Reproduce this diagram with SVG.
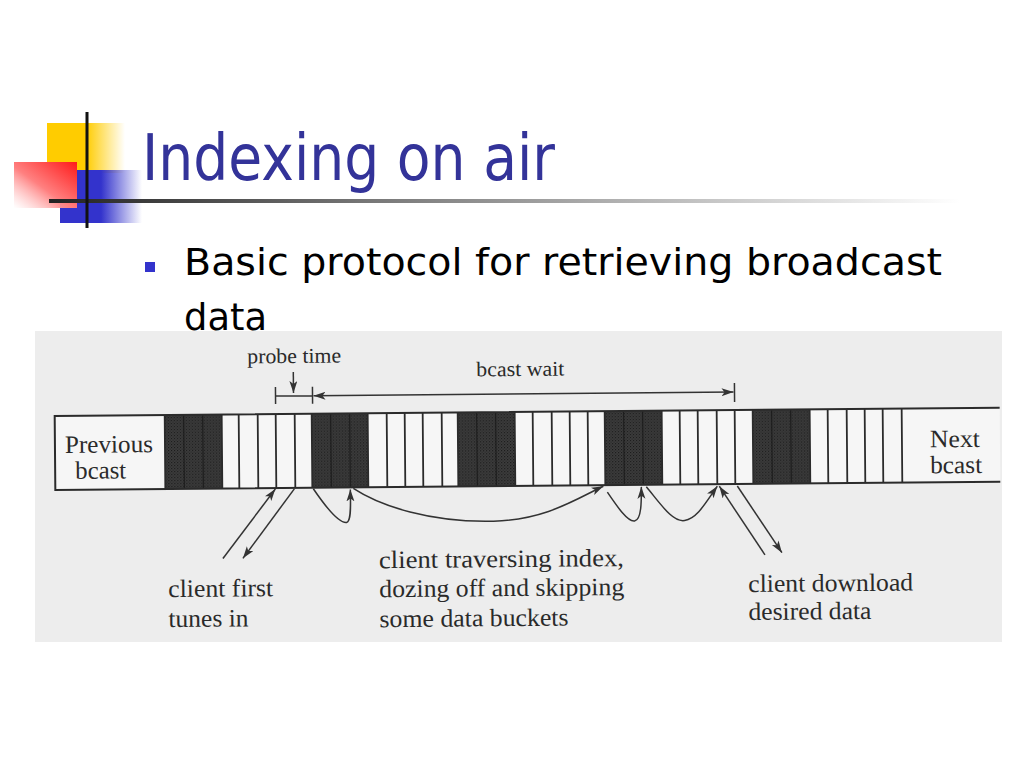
<svg xmlns="http://www.w3.org/2000/svg" width="1024" height="768" viewBox="0 0 1024 768">
<defs>
<style>
.title{font-family:"DejaVu Sans","Noto Sans",sans-serif;font-size:64px;fill:#333399}
.bullet{font-family:"DejaVu Sans","Noto Sans",sans-serif;font-size:38px;fill:#000}
.scan{font-family:"Liberation Serif","DejaVu Serif",serif;fill:#2a2a2a}
.s21{font-size:21px}
.s25{font-size:25px}
.ln{stroke:#2b2b2b;stroke-width:2;fill:none}
.cell{stroke:#2b2b2b;stroke-width:1.8}
.sub{stroke:#1a1a1a;stroke-width:1}
.con{stroke:#333;stroke-width:1.5;fill:none}
.arr{marker-end:url(#ah)}
.dark{fill:url(#stip)}
</style>
<linearGradient id="gYel" x1="0" y1="0" x2="1" y2="0">
<stop offset="0" stop-color="#ffcc00"/><stop offset="0.5" stop-color="#ffcc00"/><stop offset="1" stop-color="#ffcc00" stop-opacity="0"/>
</linearGradient>
<linearGradient id="gBlue" x1="0" y1="0" x2="1" y2="0">
<stop offset="0" stop-color="#3333cc"/><stop offset="0.5" stop-color="#3333cc"/><stop offset="1" stop-color="#3333cc" stop-opacity="0"/>
</linearGradient>
<linearGradient id="gRed" x1="1" y1="0" x2="0" y2="1">
<stop offset="0" stop-color="#ff1a1a"/><stop offset="0.55" stop-color="#ff8080"/><stop offset="1" stop-color="#ffffff" stop-opacity="0.6"/>
</linearGradient>
<linearGradient id="gLine" x1="0" y1="0" x2="1" y2="0">
<stop offset="0" stop-color="#222"/><stop offset="0.35" stop-color="#777"/><stop offset="1" stop-color="#fff"/>
</linearGradient>
<pattern id="stip" width="3" height="3" patternUnits="userSpaceOnUse">
<rect width="3" height="3" fill="#3e3e3e"/>
<rect x="0" y="0" width="1.2" height="1.2" fill="#1a1a1a"/>
<rect x="1.5" y="1.5" width="1.2" height="1.2" fill="#222"/>
</pattern>
<marker id="ah" markerUnits="userSpaceOnUse" markerWidth="14" markerHeight="10" refX="12" refY="4" orient="auto-start-reverse">
<path d="M0,0 L12,4 L0,8 L3,4 z" fill="#333"/>
</marker>
</defs>
<rect width="1024" height="768" fill="#fff"/>

<g id="logo">
<rect x="47" y="123" width="78" height="50" fill="url(#gYel)"/>
<rect x="60" y="170" width="82" height="53" fill="url(#gBlue)"/>
<rect x="14" y="162" width="63" height="46" fill="url(#gRed)"/>
<rect x="49" y="199" width="911" height="4" fill="url(#gLine)"/>
<rect x="85.5" y="112" width="3" height="116" fill="#111"/>
</g>

<g id="title"><text class="title" x="142" y="180" textLength="413" lengthAdjust="spacingAndGlyphs">Indexing on air</text></g>

<g id="bullet">
<rect x="145" y="262" width="10" height="10" fill="#3333cc"/>
<text class="bullet" x="184" y="275" textLength="758" lengthAdjust="spacingAndGlyphs">Basic protocol for retrieving broadcast</text>
<text class="bullet" x="184" y="330" textLength="83" lengthAdjust="spacingAndGlyphs">data</text>
</g>

<rect id="scan-bg" x="35" y="331" width="967" height="311" fill="#ededed"/>

<g transform="rotate(-0.5 512 450)">
<g id="bar">
<rect x="55" y="412" width="945" height="74" fill="#f6f6f6"/>
<g id="index-buckets">
<rect class="dark" x="165" y="412" width="57" height="74"/>
<rect class="dark" x="312" y="412" width="56" height="74"/>
<rect class="dark" x="458" y="412" width="57" height="74"/>
<rect class="dark" x="605" y="412" width="57" height="74"/>
<rect class="dark" x="753" y="412" width="57" height="74"/>
<path class="sub" d="M184,412V486M203,412V486M331,412V486M350,412V486M477,412V486M496,412V486M624,412V486M643,412V486M772,412V486M791,412V486"/>
</g>
<g id="data-buckets">
<path class="cell" d="M165,412V486M222,412V486M239,412V486M258,412V486M276,412V486M295,412V486M312,412V486M368,412V486M387,412V486M405,412V486M423,412V486M442,412V486M458,412V486M515,412V486M533,412V486M552,412V486M570,412V486M588,412V486M605,412V486M662,412V486M680,412V486M698,412V486M717,412V486M735,412V486M753,412V486M810,412V486M828,412V486M847,412V486M865,412V486M883,412V486M902,412V486"/>
</g>
<path class="ln" d="M1000,412H55V486H1000"/>
</g>

<g id="previous-bcast">
<text class="scan s25" x="65" y="449" textLength="88" lengthAdjust="spacingAndGlyphs">Previous</text>
<text class="scan s25" x="75" y="475" textLength="51" lengthAdjust="spacingAndGlyphs">bcast</text>
</g>
<g id="next-bcast">
<text class="scan s25" x="930" y="451" textLength="50" lengthAdjust="spacingAndGlyphs">Next</text>
<text class="scan s25" x="930" y="477" textLength="52" lengthAdjust="spacingAndGlyphs">bcast</text>
</g>

<g id="probe-time">
<text class="scan s21" x="248" y="361" textLength="94" lengthAdjust="spacingAndGlyphs">probe time</text>
</g>
<g id="bcast-wait">
<text class="scan s21" x="477" y="376" textLength="88" lengthAdjust="spacingAndGlyphs">bcast wait</text>
</g>
<g id="label-first">
<text class="scan s25" x="167" y="594" textLength="105" lengthAdjust="spacingAndGlyphs">client first</text>
<text class="scan s25" x="167" y="624" textLength="80" lengthAdjust="spacingAndGlyphs">tunes in</text>
</g>
<g id="label-traverse">
<text class="scan s25" x="378" y="567" textLength="245" lengthAdjust="spacingAndGlyphs">client traversing index,</text>
<text class="scan s25" x="378" y="596" textLength="245" lengthAdjust="spacingAndGlyphs">dozing off and skipping</text>
<text class="scan s25" x="378" y="626" textLength="189" lengthAdjust="spacingAndGlyphs">some data buckets</text>
</g>
<g id="label-download">
<text class="scan s25" x="747" y="594" textLength="165" lengthAdjust="spacingAndGlyphs">client download</text>
<text class="scan s25" x="747" y="622" textLength="123" lengthAdjust="spacingAndGlyphs">desired data</text>
</g>

<g id="connectors">
<path class="con" d="M294,370V391" marker-end="url(#ah)"/>
<path class="con" d="M276,385V402M313,385V402M735,385V404M276,394H313"/>
<path class="con" d="M314,394H734" marker-start="url(#ah)" marker-end="url(#ah)"/>
<path class="con arr" d="M222,556L275,487"/>
<path class="con arr" d="M294,487L242,556"/>
<path class="con arr" d="M313,487C325,505 338,522 346,521C351,520 350,502 350,488"/>
<path class="con arr" d="M353,487C380,505 430,522 493,521C545,520 575,500 603,487"/>
<path class="con arr" d="M607,493C617,508 627,523 634,522C641,521 641,502 641,488"/>
<path class="con arr" d="M646,488C660,505 672,524 684,522C697,520 706,503 717,488"/>
<path class="con arr" d="M764,557L719,488"/>
<path class="con arr" d="M737,488L781,555"/>
</g>
</g>
</svg>
